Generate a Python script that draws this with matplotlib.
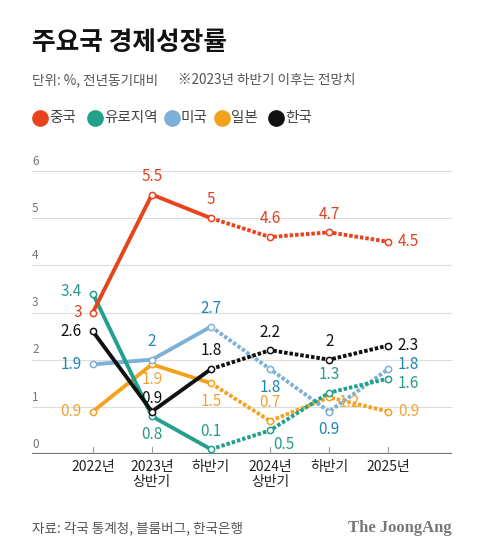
import matplotlib
matplotlib.use('Agg')
import matplotlib.pyplot as plt
from matplotlib.lines import Line2D

plt.rcParams['font.family'] = ['Noto Sans CJK KR', 'DejaVu Sans']

# data
periods = ['2022년', '2023년\n상반기', '하반기', '2024년\n상반기', '하반기', '2025년']
countries = ['중국', '유로지역', '미국', '일본', '한국']
china = [3, 5.5, 5, 4.6, 4.7, 4.5]
euro = [3.4, 0.8, 0.1, 0.5, 1.3, 1.6]
usa = [1.9, 2, 2.7, 1.8, 0.9, 1.8]
japan = [0.9, 1.9, 1.5, 0.7, 1.2, 0.9]
korea = [2.6, 0.9, 1.8, 2.2, 2, 2.3]

# label placement per point: l=left, r=right, a=above, b=below
china_pos = ['l', 'a', 'a', 'a', 'a', 'r']
euro_pos = ['lu', 'b', 'a', 'br', 'a', 'rd']
usa_pos = ['l', 'a', 'a', 'b', 'b', 'ru']
japan_pos = ['l', 'bs', 'b', 'a', 'rd', 'r']
korea_pos = ['l', 'as', 'a', 'a', 'a', 'r']

line_colors = ['#e8431c', '#22a08c', '#7cb0d8', '#f4a21e', '#111111']
text_colors = ['#d9431f', '#2a9a88', '#1b87b0', '#eea434', '#111111']

series = [japan, usa, euro, korea, china]
positions = [japan_pos, usa_pos, euro_pos, korea_pos, china_pos]
order = [3, 2, 1, 4, 0]

fig = plt.figure(figsize=(4.8, 5.57), dpi=100)
ax = fig.add_axes([32 / 480, 103 / 557, 420 / 480, 283 / 557])

x = list(range(len(periods)))
offsets = {'l': (-8, 0, 'right', 'center'), 'r': (7, 0, 'left', 'center'),
           'lu': (-8, 1.5, 'right', 'center'), 'ru': (7, 3, 'left', 'center'),
           'rd': (7, -3.5, 'left', 'center'),
           'a': (0, 7, 'center', 'bottom'), 'b': (0, -7, 'center', 'top'),
           'as': (0, 3, 'center', 'bottom'), 'bs': (0, -5, 'center', 'top'),
           'br': (2, -4, 'left', 'top')}

for vals, pos, ci in zip(series, positions, order):
    c = line_colors[ci]
    ax.plot(x[:3], vals[:3], color=c, lw=2.8, solid_capstyle='butt', clip_on=False, zorder=3)
    ax.plot(x[2:], vals[2:], color=c, lw=2.8, linestyle=(0, (0.9, 0.5)), clip_on=False, zorder=3)
    ax.plot(x, vals, 'o', ms=4.5, mfc='white', mec=c, mew=1.1, clip_on=False, zorder=4)
    for xi, v, p in zip(x, vals, pos):
        dx, dy, ha, va = offsets[p]
        ax.annotate(f'{v:g}', (xi, v), xytext=(dx, dy), textcoords='offset points',
                    ha=ha, va=va, fontsize=11, color=text_colors[ci], zorder=5)

ax.set_xlim(-1.03, 6.08)
ax.set_ylim(0, 6)
for s in ax.spines.values():
    s.set_visible(False)
ax.set_xticks([])
ax.set_yticks([])
for yv in range(1, 7):
    ax.axhline(yv, color='#dddddd', lw=0.8, zorder=1)
    ax.text(-1.03, yv + 0.07, str(yv), fontsize=8.5, color='#777777', ha='left', va='bottom')
ax.axhline(0, color='#777777', lw=1.6, zorder=2)
ax.text(-1.03, 0.07, '0', fontsize=8.5, color='#777777', ha='left', va='bottom')
for xi, lab in zip(x, periods):
    ax.plot([xi, xi], [0, 0.15], color='#999999', lw=0.8, zorder=2)
    ax.text(xi, -0.12, lab, ha='center', va='top', fontsize=10, color='#222222',
            linespacing=1.15)

# titles
fig.text(32 / 480, 1 - 43 / 557, '주요국 경제성장률', fontsize=18.5, fontweight='bold',
         color='#111111', va='center')
fig.text(32 / 480, 1 - 80 / 557, '단위: %, 전년동기대비', fontsize=9.8, color='#555555', va='center')
fig.text(178 / 480, 1 - 80 / 557, '※2023년 하반기 이후는 전망치', fontsize=9.8, color='#555555',
         va='center')

# legend
leg_x = [40, 95, 172, 222, 276]
for lx, name, c in zip(leg_x, countries, line_colors):
    fig.add_artist(Line2D([lx / 480], [1 - 118 / 557], marker='o', ms=11, color=c,
                          transform=fig.transFigure))
    fig.text((lx + 9) / 480, 1 - 118 / 557, name, fontsize=10.5, color='#444444', va='center')

# footer
fig.text(32 / 480, 1 - 528 / 557, '자료: 각국 통계청, 블룸버그, 한국은행', fontsize=9.8,
         color='#555555', va='center')
fig.text(452 / 480, 1 - 528 / 557, 'The JoongAng', fontsize=12, fontweight='bold',
         family='Liberation Serif', color='#777777', va='center', ha='right')

fig.savefig('out.png', dpi=100)
